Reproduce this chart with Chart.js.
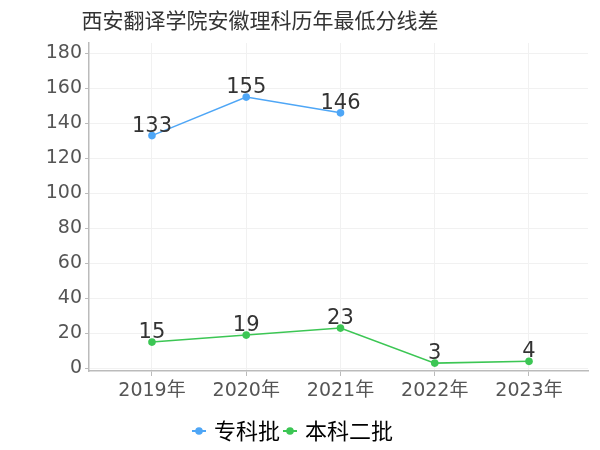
<!DOCTYPE html>
<html><head><meta charset="utf-8">
<script src="https://cdn.jsdelivr.net/npm/chart.js@4"></script>
<style>html,body{margin:0;padding:0;background:#fff}#wrap{width:600px;height:450px}</style>
</head><body><div id="wrap"><canvas id="c" width="600" height="450"></canvas></div>
<script>
const titleText = '西安翻译学院安徽理科历年最低分线差';
const categories = ['2019年', '2020年', '2021年', '2022年', '2023年'];
const seriesNames = ['专科批', '本科二批'];
const zhuanke = [133, 155, 146, null, null];
const benke2 = [15, 19, 23, 3, 4];
const yTicks = [0, 20, 40, 60, 80, 100, 120, 140, 160, 180];
const colors = ['#4ea6f6', '#3cc654'];

const FONT = '"DejaVu Sans", "Noto Sans CJK SC", sans-serif';
const CJK = '"Noto Sans CJK SC", "DejaVu Sans", sans-serif';

function marker(color) {
  const c = document.createElement('canvas');
  c.width = 14; c.height = 10;
  const g = c.getContext('2d');
  g.strokeStyle = color; g.lineWidth = 2;
  g.beginPath(); g.moveTo(0, 5); g.lineTo(14, 5); g.stroke();
  g.fillStyle = color; g.beginPath(); g.arc(7, 5, 3.8, 0, Math.PI * 2); g.fill();
  return c;
}

const titlePlugin = {
  id: 'ctitle',
  afterDraw(chart) {
    const ctx = chart.ctx;
    ctx.save();
    ctx.font = '21px ' + CJK;
    ctx.fillStyle = '#333';
    ctx.textAlign = 'center';
    ctx.textBaseline = 'middle';
    ctx.fillText(titleText, 260, 20);
    ctx.restore();
  }
};
const labelPlugin = {
  id: 'vlabels',
  afterDatasetsDraw(chart) {
    const ctx = chart.ctx;
    ctx.save();
    ctx.font = '21px ' + FONT;
    ctx.fillStyle = '#333';
    ctx.textAlign = 'center';
    ctx.textBaseline = 'alphabetic';
    chart.data.datasets.forEach((ds, di) => {
      const meta = chart.getDatasetMeta(di);
      meta.data.forEach((pt, i) => {
        const v = ds.data[i].y;
        if (v === null || v === undefined) return;
        ctx.fillText(String(v), pt.x, pt.y - 4);
      });
    });
    ctx.restore();
  }
};

const toPts = arr => arr.map((v, i) => ({x: i, y: v}));

new Chart(document.getElementById('c'), {
  type: 'line',
  data: {
    datasets: [
      {label: seriesNames[0], data: toPts(zhuanke), borderColor: colors[0], backgroundColor: colors[0],
       borderWidth: 1.5, pointRadius: 3.8, pointBorderWidth: 0, pointStyle: 'circle', spanGaps: false},
      {label: seriesNames[1], data: toPts(benke2), borderColor: colors[1], backgroundColor: colors[1],
       borderWidth: 1.5, pointRadius: 3.8, pointBorderWidth: 0, pointStyle: 'circle', spanGaps: false}
    ]
  },
  options: {
    responsive: false,
    animation: false,
    layout: {padding: {left: 0, right: 12, top: 43, bottom: -2}},
    scales: {
      x: {
        type: 'linear', min: -0.668, max: 4.626,
        afterBuildTicks: s => { s.ticks = categories.map((_, i) => ({value: i})); },
        afterFit: s => { s.height = 43; },
        ticks: {callback: v => categories[v], color: '#555', font: {size: 19, family: FONT}, padding: 4, autoSkip: false, maxRotation: 0},
        grid: {color: '#f1f1f1', drawTicks: true, tickLength: 5, tickColor: '#bbb'},
        border: {color: '#bbb', width: 1.5}
      },
      y: {
        min: -1.5, max: 185.9,
        afterBuildTicks: s => { s.ticks = yTicks.map(v => ({value: v})); },
        afterFit: s => { s.width = 89; },
        ticks: {color: '#555', font: {size: 19, family: FONT}, padding: 3},
        grid: {color: '#f1f1f1', tickLength: 4, tickColor: '#bbb'},
        border: {color: '#bbb', width: 1.5}
      }
    },
    plugins: {
      title: {display: false},
      tooltip: {enabled: false},
      legend: {
        position: 'bottom',
        labels: {
          usePointStyle: true, pointStyleWidth: 8, padding: 6,
          color: '#333', font: {size: 22, family: CJK},
          generateLabels: chart => chart.data.datasets.map((ds, i) => ({
            text: ds.label, pointStyle: marker(colors[i]), fillStyle: colors[i], strokeStyle: colors[i],
            lineWidth: 0, datasetIndex: i, hidden: false
          }))
        }
      }
    }
  },
  plugins: [titlePlugin, labelPlugin]
});
</script></body></html>
